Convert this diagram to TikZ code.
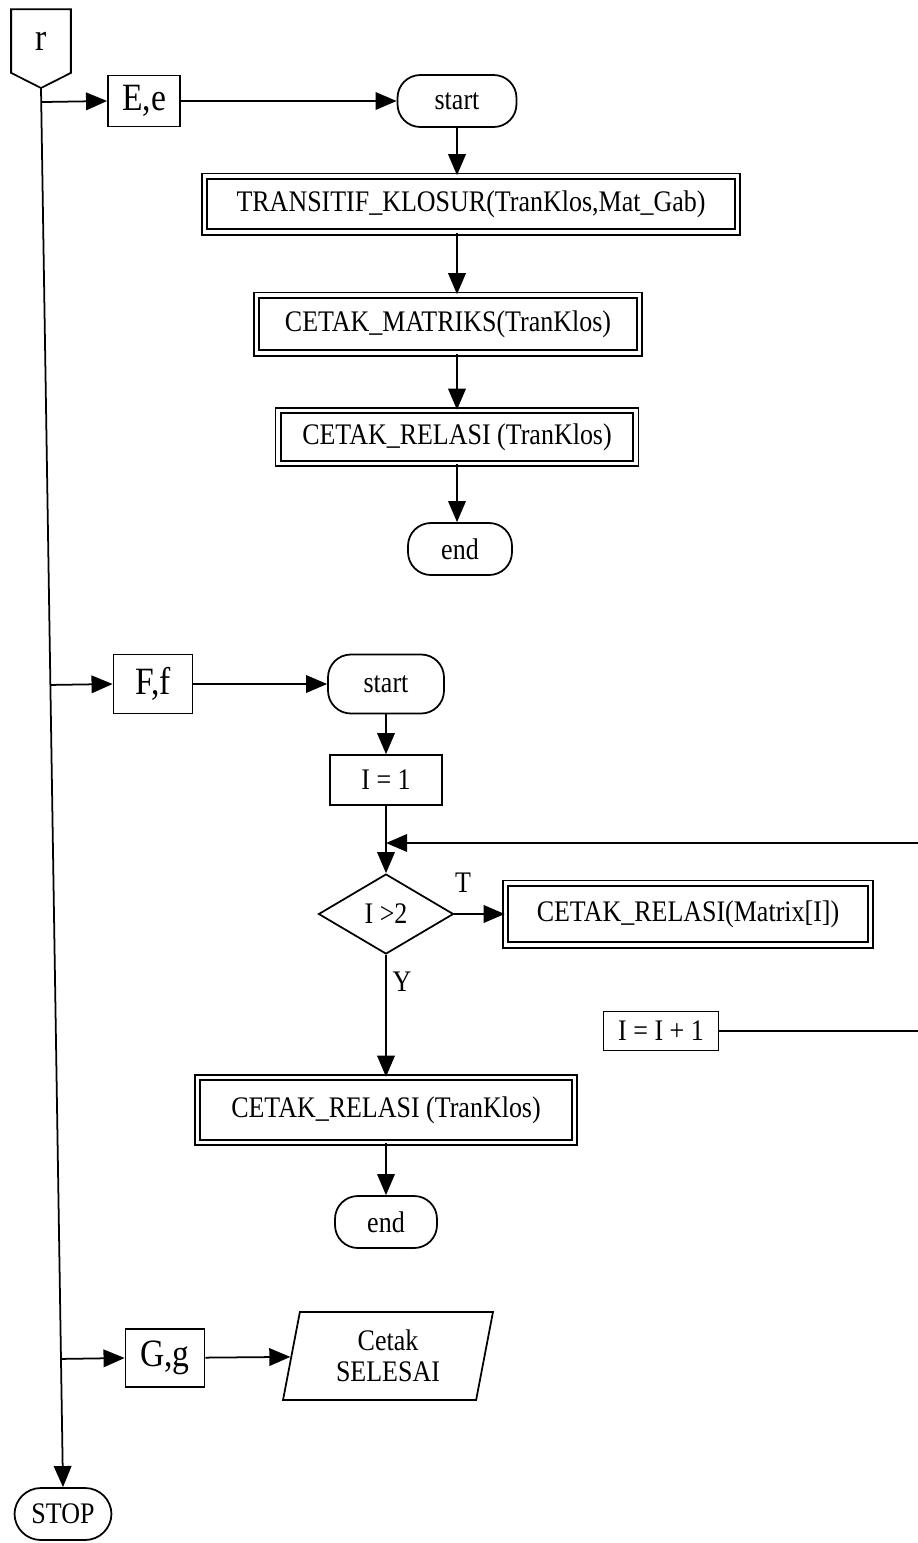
\documentclass[tikz,border=0pt]{standalone}
\usepackage{fontspec}
\setmainfont{Liberation Serif}[FakeStretch=0.87]
\usetikzlibrary{arrows.meta,shapes.geometric,calc}

\tikzset{
  box/.style={draw, line width=1pt, inner sep=2pt, font=\fontsize{17}{18}\selectfont},
  bigbox/.style={box, font=\fontsize{22}{24}\selectfont},
  subproc/.style={box, double, double distance=2.2pt, line width=0.9pt},
  term/.style={box, rounded corners=13pt},
  decide/.style={box, diamond, inner sep=0pt},
  io/.style={box, trapezium, trapezium left angle=74, trapezium right angle=106,
    trapezium stretches body, align=center},
  lbl/.style={font=\fontsize{17}{18}\selectfont},
  flow/.style={-{Triangle[length=12pt,width=10pt]}, line width=1pt},
  link/.style={line width=1pt}
}

\begin{document}
\begin{tikzpicture}[x=0.02cm, y=-0.02cm]
    \useasboundingbox (0,0) rectangle (918,1543);

    % connector r and the end
    \node[bigbox, draw=none, minimum width=1.16cm, minimum height=1.24cm] (r) at (41,41) {r};
    \coordinate (rtip) at (41,88);
    \draw[link] (r.south west) -- (r.north west) -- (r.north east) -- (r.south east) -- (rtip) -- cycle;
    \node[term, rounded corners=15pt, minimum width=1.94cm, minimum height=1.04cm] (stop) at (63,1514) {STOP};
    \draw[flow] (rtip) -- (stop.north);

    % E,e
    \node[bigbox, minimum width=1.44cm, minimum height=1.02cm] (E) at (144,101) {E,e};
    \node[term, minimum width=2.38cm, minimum height=1.04cm] (st1) at (457,101) {start};
    \node[subproc, minimum width=10.66cm, minimum height=1.12cm] (klosur) at (471,204) {TRANSITIF\_KLOSUR(TranKlos,Mat\_Gab)};
    \node[subproc, minimum width=7.66cm, minimum height=1.16cm] (cmat) at (448,324) {CETAK\_MATRIKS(TranKlos)};
    \node[subproc, minimum width=7.16cm, minimum height=1.06cm] (crel) at (457,437) {CETAK\_RELASI (TranKlos)};
    \node[term, minimum width=2.08cm, minimum height=1.04cm] (end1) at (460,549) {end};

    \draw[flow] ($(rtip)!(E.west)!(stop.north)$) -- (E.west);
    \draw[flow] (E) -- (st1);
    \draw[flow] (st1.south) -- (st1.south |- klosur.north);
    \draw[flow] (st1.south |- klosur.south) -- (st1.south |- cmat.north);
    \draw[flow] (st1.south |- cmat.south) -- (st1.south |- crel.north);
    \draw[flow] (st1.south |- crel.south) -- (st1.south |- end1.north);

    % F,f
    \node[bigbox, minimum width=1.58cm, minimum height=1.18cm] (F) at (153,684) {F,f};
    \node[term, minimum width=2.32cm, minimum height=1.18cm] (st2) at (386,684) {start};
    \node[box, minimum width=2.24cm, minimum height=1cm] (init) at (386,780) {I = 1};
    \node[decide, minimum width=2.7cm, minimum height=1.6cm] (cek) at (386,914) {I >2};
    \node[subproc, minimum width=7.3cm, minimum height=1.24cm] (cmtx) at (688,914) {CETAK\_RELASI(Matrix[I])};
    \node[box, minimum width=2.3cm, minimum height=0.78cm] (inc) at (661,1031) {I = I + 1};
    \node[subproc, minimum width=7.54cm, minimum height=1.3cm] (crel2) at (386,1110) {CETAK\_RELASI (TranKlos)};
    \node[term, minimum width=2.04cm, minimum height=1.04cm] (end2) at (386,1222) {end};
    \node[lbl] (lT) at (463,883) {T};
    \node[lbl] (lY) at (402,982) {Y};
    \coordinate (loopA) at (918,1031);
    \coordinate (loopB) at (918,843);

    \draw[flow] ($(rtip)!(F.west)!(stop.north)$) -- (F.west);
    \draw[flow] (F) -- (st2);
    \draw[flow] (st2) -- (init);
    \draw[flow] (init) -- (cek);
    \draw[flow] (cek) -- (cmtx);
    \draw[flow] (cek) -- (crel2);
    \draw[flow] (crel2) -- (end2);
    \draw[link] (inc) -- (loopA);
    \draw[flow] (loopB) -- (init.south |- loopB);

    % G,g
    \node[bigbox, minimum width=1.58cm, minimum height=1.16cm] (G) at (165,1358) {G,g};
    \node[io, minimum width=4.2cm, minimum height=1.76cm, font=\fontsize{17}{17.5}\selectfont] (cetak) at (388,1356) {Cetak\\SELESAI};

    \draw[flow] ($(rtip)!(G.west)!(stop.north)$) -- (G.west);
    \draw[flow] (G) -- (cetak);
\end{tikzpicture}
\end{document}
